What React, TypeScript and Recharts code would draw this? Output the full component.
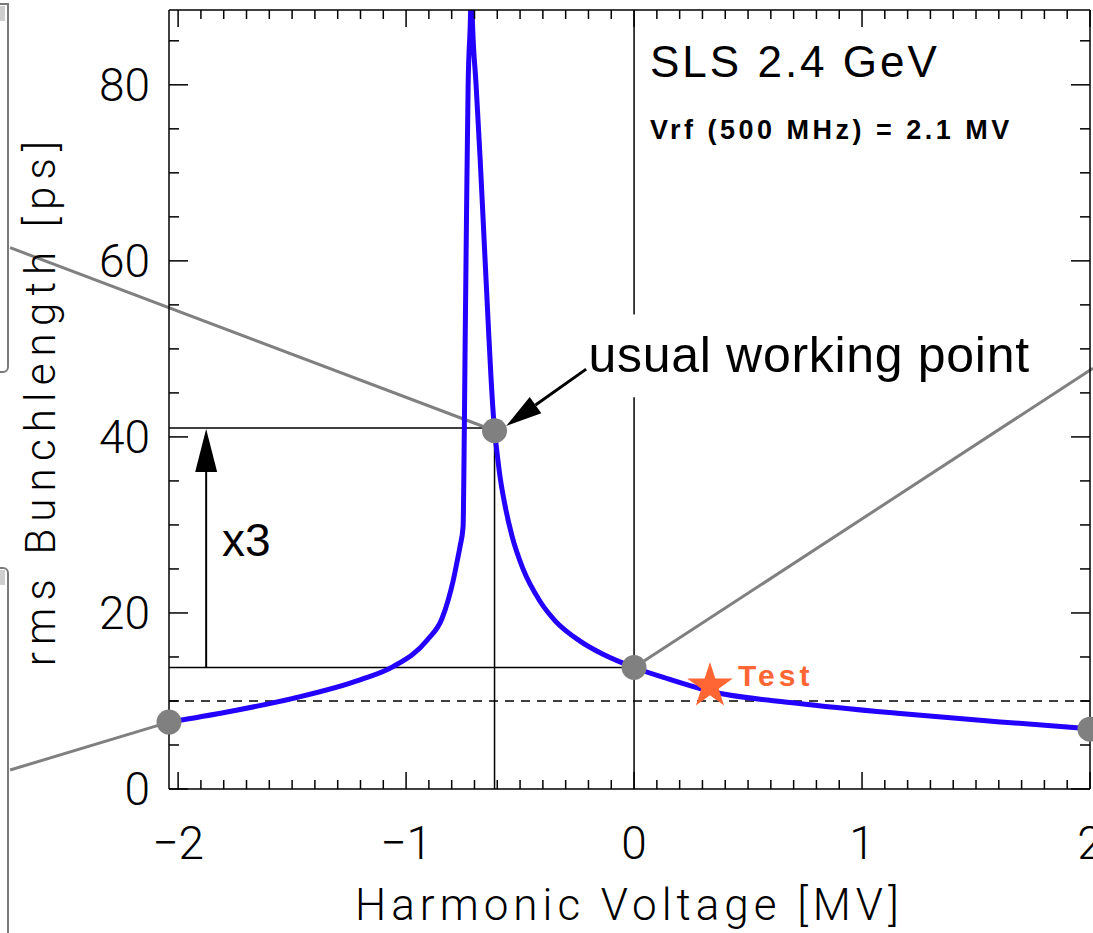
import React from "react";
import { LineChart, Line, XAxis, YAxis, ReferenceLine, ReferenceDot, Label } from "recharts";

// harmonic voltage [MV] -> rms bunch length [ps]
const voltage = [
  -2.04, -1.785, -1.496, -1.202, -1.057, -0.908, -0.842, -0.816, -0.794, -0.775,
  -0.763, -0.75, -0.7456, -0.7412, -0.7346, -0.728, -0.717, -0.714, -0.7105, -0.693,
  -0.675, -0.658, -0.64, -0.627, -0.612, -0.601, -0.588, -0.566, -0.535, -0.487,
  -0.412, -0.346, -0.237, -0.136, 0, 0.15, 0.333, 0.715, 1.154, 1.592, 2.0,
];
const bunchLength = [
  7.6, 8.75, 10.3, 12.4, 13.9, 16.9, 19.4, 21.4, 23.6, 26.0,
  27.6, 29.8, 38, 50, 66, 79.7, 88.5, 93, 88.5, 80,
  71.5, 62.5, 53, 46.5, 40.7, 38.2, 35.5, 32.2, 28.7, 25,
  21.3, 19.1, 16.8, 15.3, 13.8, 12.5, 11.1, 9.75, 8.6, 7.65, 6.85,
];

// grey marker points and the orange test point
const pointV = [-2.04, -0.612, 0, 2];
const pointL = [7.6, 40.7, 13.8, 6.8];
const testV = 0.333;
const testL = 11.7;

// leader lines from the grey points out to the (cut off) side panels
const leaderEnds: [number, number][] = [[-2.737, 2.16], [-2.737, 61.5], [2.013, 47.8]];

const xDomain = [-2.04, 2];
const yDomain = [0, 88.5];
const xTicks = Array.from({ length: 41 }, (_, i) => Math.round((-2 + i * 0.1) * 10) / 10);
const yTicks = Array.from({ length: 18 }, (_, i) => i * 5);

const tickFont = { fontFamily: "Roboto, 'Liberation Sans', sans-serif", fontWeight: 300 };
const textFont = "'Liberation Sans', Arial, sans-serif";
const isMajor = (v: number, step: number) => Math.abs(v / step - Math.round(v / step)) < 1e-6;
const fmt = (v: number) => (v < 0 ? "\u2212" + Math.abs(v) : String(v));

const BottomTick = (p: any) => {
  const major = isMajor(p.payload.value, 1);
  return (
    <g>
      <line x1={p.x} y1={p.y} x2={p.x} y2={p.y - (major ? 17 : 9)} stroke="#000" strokeWidth={1.5} />
      {major && (
        <text x={p.x} y={p.y + 54} textAnchor="middle" dominantBaseline="central" fontSize={46} {...tickFont}>
          {fmt(p.payload.value)}
        </text>
      )}
    </g>
  );
};
const TopTick = (p: any) => {
  const major = isMajor(p.payload.value, 1);
  return <line x1={p.x} y1={p.y} x2={p.x} y2={p.y + (major ? 17 : 9)} stroke="#000" strokeWidth={1.5} />;
};
const LeftTick = (p: any) => {
  const major = isMajor(p.payload.value, 20);
  return (
    <g>
      <line x1={p.x} y1={p.y} x2={p.x + (major ? 19 : 10)} y2={p.y} stroke="#000" strokeWidth={1.5} />
      {major && (
        <text x={p.x - 19} y={p.y} textAnchor="end" dominantBaseline="central" fontSize={46} {...tickFont}>
          {p.payload.value}
        </text>
      )}
    </g>
  );
};
const RightTick = (p: any) => {
  const major = isMajor(p.payload.value, 20);
  return <line x1={p.x} y1={p.y} x2={p.x - (major ? 19 : 10)} y2={p.y} stroke="#000" strokeWidth={1.5} />;
};

const XTitle = (p: any) => {
  const vb = p.viewBox;
  return (
    <text x={vb.x + vb.width / 2} y={vb.y + 116} textAnchor="middle" dominantBaseline="central"
      fontSize={44} letterSpacing={5} {...tickFont}>
      Harmonic Voltage [MV]
    </text>
  );
};
const YTitle = (p: any) => {
  const vb = p.viewBox;
  const cx = vb.x + 40;
  const cy = vb.y + 390;
  return (
    <text x={cx} y={cy} transform={`rotate(-90, ${cx}, ${cy})`} textAnchor="middle" dominantBaseline="central"
      fontSize={42} letterSpacing={7.2} {...tickFont}>
      rms Bunchlength [ps]
    </text>
  );
};

const arrow = (headLen: number, headHalf: number) => (p: any) => {
  const { x1, y1, x2, y2 } = p;
  const len = Math.hypot(x2 - x1, y2 - y1);
  const ux = (x2 - x1) / len;
  const uy = (y2 - y1) / len;
  const bx = x2 - ux * headLen;
  const by = y2 - uy * headLen;
  const nx = -uy * headHalf;
  const ny = ux * headHalf;
  return (
    <g>
      <line x1={x1} y1={y1} x2={bx} y2={by} stroke="#000" strokeWidth={p.strokeWidth} />
      <polygon points={`${x2},${y2} ${bx + nx},${by + ny} ${bx - nx},${by - ny}`} fill="#000" />
    </g>
  );
};

const star = (p: any) => {
  const R = 24;
  const r = R * 0.382;
  const pts = Array.from({ length: 10 }, (_, i) => {
    const a = -Math.PI / 2 + (i * Math.PI) / 5;
    const rr = i % 2 === 0 ? R : r;
    return `${p.cx + rr * Math.cos(a)},${p.cy + rr * Math.sin(a)}`;
  }).join(" ");
  return <polygon points={pts} fill="#ff6633" />;
};

const note = (text: string, size: number, opts: any = {}) => (p: any) => (
  <text x={p.cx} y={p.cy} dominantBaseline="central" fontSize={size} fontFamily={textFont} {...opts}>
    {text}
  </text>
);

const frame = (top: number, height: number, radius: string) => (
  <div style={{
    position: "absolute", left: -12, top, width: 21, height, boxSizing: "border-box",
    border: "2px solid #7a7a7a", borderRadius: radius, background: "#fff",
  }}>
    <div style={{ position: "absolute", right: 2, top: 1, width: 8, height: 15, background: "#cfcfcf" }} />
  </div>
);

export default function App() {
  const data = voltage.map((v, i) => ({ v, len: bunchLength[i] }));
  const black = { stroke: "#000", strokeWidth: 1.5 };
  return (
    <div style={{ position: "absolute", left: 0, top: 0, width: 1093, height: 933, background: "#fff", overflow: "hidden" }}>
      <LineChart width={1093} height={933} data={data} margin={{ top: 9, right: 2, bottom: 0, left: 0 }}>
        <XAxis dataKey="v" type="number" domain={xDomain} allowDataOverflow ticks={xTicks} interval={0}
          tick={<BottomTick />} tickLine={false} tickSize={0} tickMargin={0} height={144}
          axisLine={{ stroke: "#000", strokeWidth: 1.5 }}>
          <Label content={XTitle} />
        </XAxis>
        <XAxis xAxisId="top" orientation="top" dataKey="v" type="number" domain={xDomain} allowDataOverflow
          ticks={xTicks} interval={0} tick={<TopTick />} tickLine={false} tickSize={0} tickMargin={0} height={1}
          axisLine={{ stroke: "#000", strokeWidth: 1.5 }} />
        <YAxis type="number" domain={yDomain} allowDataOverflow ticks={yTicks} interval={0}
          tick={<LeftTick />} tickLine={false} tickSize={0} tickMargin={0} width={169}
          axisLine={{ stroke: "#000", strokeWidth: 1.5 }}>
          <Label content={YTitle} />
        </YAxis>
        <YAxis yAxisId="right" orientation="right" type="number" domain={yDomain} allowDataOverflow ticks={yTicks}
          interval={0} tick={<RightTick />} tickLine={false} tickSize={0} tickMargin={0} width={1}
          axisLine={{ stroke: "#000", strokeWidth: 1.5 }} />

        {/* guide lines */}
        <ReferenceLine y={10} {...black} strokeDasharray="9 7" />
        <ReferenceLine segment={[{ x: xDomain[0], y: 41 }, { x: pointV[1], y: 41 }]} {...black} />
        <ReferenceLine segment={[{ x: xDomain[0], y: pointL[2] }, { x: pointV[2], y: pointL[2] }]} {...black} />
        <ReferenceLine segment={[{ x: pointV[1], y: 0 }, { x: pointV[1], y: 41 }]} {...black} />
        <ReferenceLine segment={[{ x: 0, y: 0 }, { x: 0, y: 44.5 }]} {...black} />
        <ReferenceLine segment={[{ x: 0, y: 53.9 }, { x: 0, y: yDomain[1] }]} {...black} />
        <ReferenceLine segment={[{ x: -1.877, y: pointL[2] }, { x: -1.877, y: 40.9 }]} stroke="#000"
          strokeWidth={2} shape={arrow(43, 11)} />
        <ReferenceLine segment={[{ x: -0.21, y: 47.7 }, { x: -0.561, y: 41.25 }]} stroke="#000"
          strokeWidth={3} shape={arrow(36, 10)} ifOverflow="visible" />

        {/* leaders to the side panels */}
        {leaderEnds.map((end, k) => (
          <ReferenceLine key={k} ifOverflow="visible" stroke="#808080" strokeWidth={3}
            segment={[{ x: pointV[k === 0 ? 0 : k], y: pointL[k === 0 ? 0 : k] }, { x: end[0], y: end[1] }]} />
        ))}

        {/* invisible copy so the top / right frame axes share the same scales */}
        <Line xAxisId="top" yAxisId="right" dataKey="len" stroke="transparent" strokeWidth={0} dot={false}
          activeDot={false} isAnimationActive={false} />
        <Line dataKey="len" type="monotone" stroke="#2400ff" strokeWidth={5} dot={false} activeDot={false}
          isAnimationActive={false} />

        {pointV.map((v, i) => (
          <ReferenceDot key={i} x={v} y={pointL[i]} r={12.5} fill="#808080" stroke="none" ifOverflow="visible" />
        ))}
        <ReferenceDot x={testV} y={testL} r={24} shape={star} ifOverflow="visible" />

        {/* text annotations */}
        <ReferenceDot x={0.07} y={82.6} r={0} shape={note("SLS 2.4 GeV", 44, { letterSpacing: 3 })} />
        <ReferenceDot x={0.07} y={74.9} r={0}
          shape={note("Vrf (500 MHz) = 2.1 MV", 27, { fontWeight: "bold", letterSpacing: 3.5 })} />
        <ReferenceDot x={-0.2} y={49.3} r={0} shape={note("usual working point", 50, { letterSpacing: 0.7 })} />
        <ReferenceDot x={-1.807} y={28.3} r={0} shape={note("x3", 46)} />
        <ReferenceDot x={0.456} y={12.95} r={0}
          shape={note("Test", 30, { fontWeight: "bold", fill: "#ff6633", letterSpacing: 4 })} />
      </LineChart>
      {frame(3, 370, "0 0 6px 0")}
      {frame(567, 380, "0 6px 0 0")}
    </div>
  );
}
